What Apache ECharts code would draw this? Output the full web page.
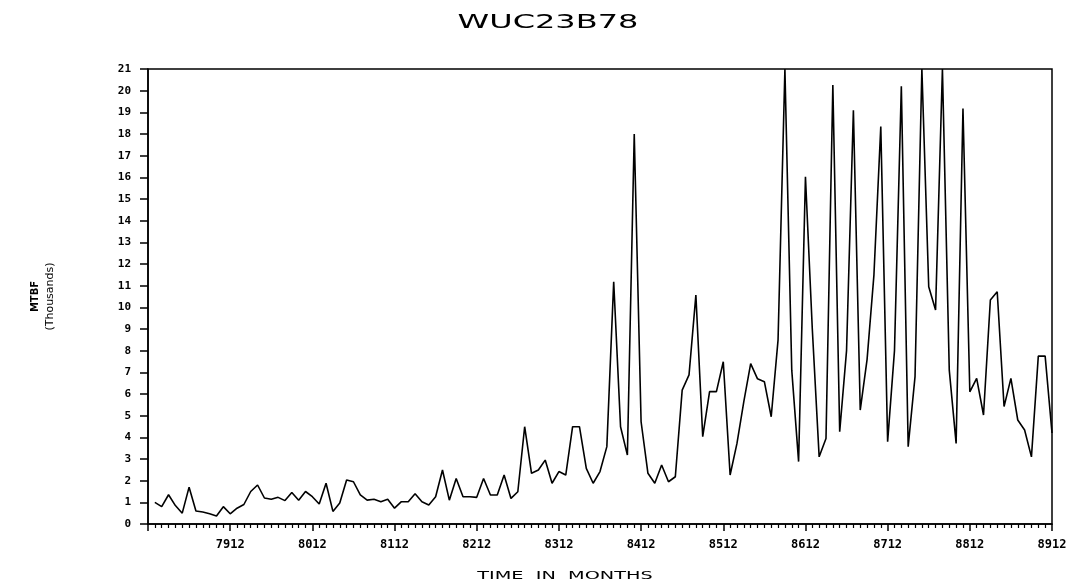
<!DOCTYPE html>
<html>
<head>
<meta charset="utf-8">
<title>WUC23B78</title>
<script src="https://cdn.jsdelivr.net/npm/echarts@6/dist/echarts.min.js"></script>
<style>
  html, body { margin: 0; padding: 0; background: #fff; }
  #chart { width: 1077px; height: 588px; }
</style>
</head>
<body>
<div id="chart"></div>
<script>
// monthly MTBF (thousands), 7901 .. 8912
const mtbf = [
  1.0, 0.8, 1.35, 0.85, 0.5, 1.7, 0.6, 0.55, 0.47, 0.37, 0.8, 0.47,
  0.73, 0.9, 1.5, 1.8, 1.2, 1.14, 1.23, 1.08, 1.45, 1.1, 1.5, 1.26,
  0.92, 1.88, 0.58, 0.97, 2.03, 1.95, 1.34, 1.1, 1.14, 1.03, 1.14, 0.73,
  1.03, 1.03, 1.4, 1.03, 0.88, 1.26, 2.49, 1.1, 2.1, 1.26, 1.26, 1.23,
  2.1, 1.34, 1.34, 2.26, 1.18, 1.49, 4.49, 2.34, 2.49, 2.95, 1.88, 2.42,
  2.26, 4.49, 4.49, 2.57, 1.88, 2.42, 3.57, 11.18, 4.49, 3.18, 18.0, 4.72,
  2.34, 1.88, 2.72, 1.95, 2.18, 6.18, 6.88, 10.57, 4.03, 6.11, 6.11, 7.49,
  2.26, 3.72, 5.65, 7.4, 6.7, 6.57, 4.95, 8.5, 21, 7.1, 2.88, 16.03,
  9.0, 3.1, 3.95, 20.26, 4.26, 8.0, 19.1, 5.26, 7.6, 11.5, 18.34, 3.8,
  8.0, 20.2, 3.57, 6.8, 21, 10.95, 9.88, 21, 7.1, 3.72, 19.18, 6.1,
  6.72, 5.03, 10.34, 10.72, 5.42, 6.72, 4.8, 4.34, 3.1, 7.75, 7.75, 4.2
]
// year-end tick labels, one every 12 months after 7812
const yearLabels = ['7912', '8012', '8112', '8212', '8312', '8412', '8512', '8612', '8712', '8812', '8912']

const chartDom = document.getElementById('chart')
const myChart = echarts.init(chartDom, null, { renderer: 'canvas' })

// x = months since 7812
const seriesData = mtbf.map((v, i) => [i + 1, v])

const labelFont = {
  color: '#000',
  fontFamily: 'DejaVu Sans Mono',
  fontWeight: 'bold',
  fontSize: 12,
}

const option = {
  backgroundColor: '#fff',
  animation: false,
  grid: {
    left: 148,
    right: 25,
    top: 69,
    bottom: 64,
    show: true,
    borderColor: '#000',
    borderWidth: 1.5,
  },
  graphic: [
    {
      type: 'text',
      x: 548,
      y: 13,
      scaleX: 1.6,
      style: {
        text: 'WUC23B78',
        fill: '#000',
        font: '20px "DejaVu Sans"',
        textAlign: 'center',
      },
    },
    {
      type: 'text',
      x: 565,
      y: 571,
      scaleX: 1.75,
      style: {
        text: 'TIME  IN  MONTHS',
        fill: '#000',
        font: '11px "DejaVu Sans"',
        textAlign: 'center',
      },
    },
  ],
  xAxis: {
    type: 'value',
    min: 0,
    max: 132,
    interval: 12,
    axisLine: { show: true, lineStyle: { color: '#000', width: 1.5 } },
    axisTick: { show: true, length: 7, lineStyle: { color: '#000', width: 1.5 } },
    minorTick: { show: true, splitNumber: 12, length: 4, lineStyle: { color: '#000', width: 1.2 } },
    splitLine: { show: false },
    axisLabel: {
      ...labelFont,
      margin: 15,
      formatter: (v) => (v === 0 ? '' : yearLabels[v / 12 - 1] || ''),
    },
  },
  yAxis: {
    type: 'value',
    min: 0,
    max: 21,
    interval: 1,
    name: '{a|MTBF}\n{b|(Thousands)}',
    nameLocation: 'middle',
    nameGap: 90,
    nameRotate: 90,
    nameTextStyle: {
      rich: {
        a: { fontFamily: 'DejaVu Sans', fontWeight: 'bold', fontSize: 10, color: '#000', lineHeight: 15 },
        b: { fontFamily: 'DejaVu Sans', fontSize: 11, color: '#000', lineHeight: 15 },
      },
    },
    axisLine: { show: true, lineStyle: { color: '#000', width: 1.5 } },
    axisTick: { show: true, length: 8, lineStyle: { color: '#000', width: 1.5 } },
    splitLine: { show: false },
    axisLabel: { ...labelFont, fontSize: 11, margin: 17 },
  },
  series: [
    {
      type: 'line',
      data: seriesData,
      showSymbol: false,
      symbol: 'none',
      lineStyle: { color: '#000', width: 1.6 },
    },
  ],
}

myChart.setOption(option)
window.addEventListener('resize', () => myChart.resize())
</script>
</body>
</html>
